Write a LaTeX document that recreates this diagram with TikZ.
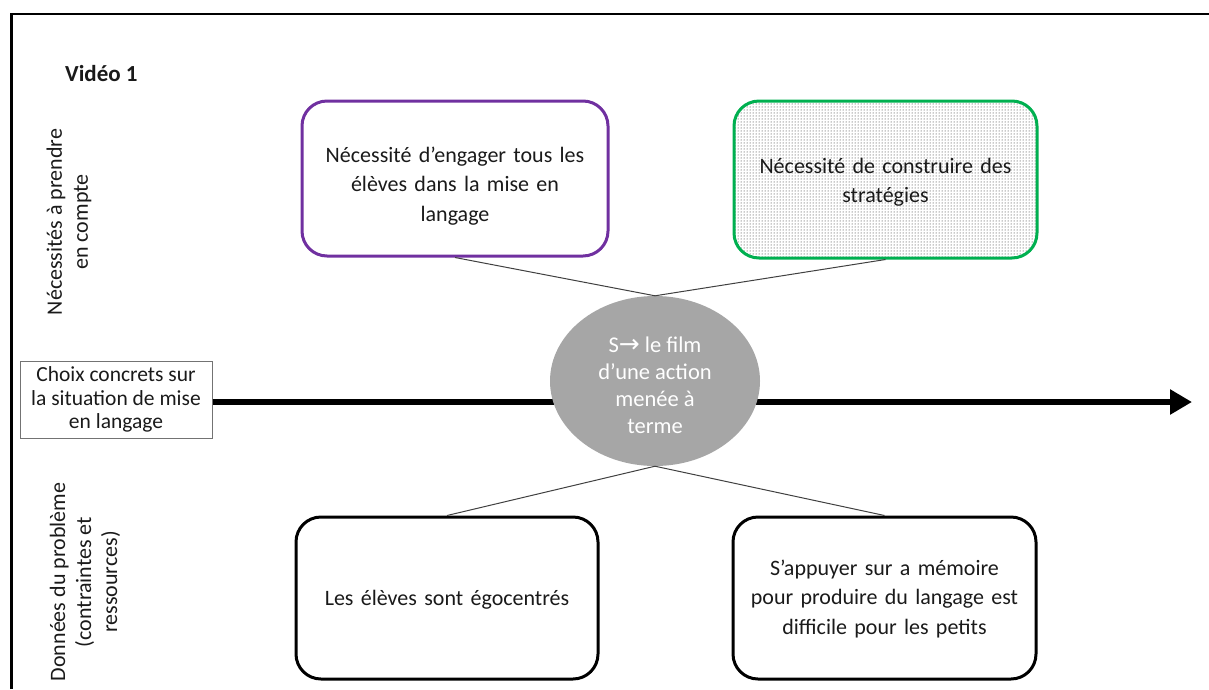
\documentclass[tikz,border=0pt]{standalone}
\usepackage{fontspec}
\setmainfont{Carlito}
\newfontfamily\symfont{DejaVu Sans}
\usetikzlibrary{shapes.geometric,arrows.meta,patterns}
\definecolor{purpleline}{HTML}{7030A0}
\definecolor{greenline}{HTML}{00B050}
\definecolor{ellgray}{HTML}{A6A6A6}
\definecolor{txt}{HTML}{1A1A1A}
\tikzset{
  bigbox/.style={draw, rounded corners=25pt, line width=3pt, inner sep=0pt},
  boxtext/.style={inner sep=0pt, text width=290pt, align=center, text=txt,
    font=\fontsize{22}{29.5}\selectfont},
  connline/.style={draw=black!75, line width=1pt},
  sidelabel/.style={rotate=90, align=center, text=txt, inner sep=0pt,
    font=\fontsize{22}{26}\selectfont},
}
\begin{document}
\begin{tikzpicture}[x=1pt,y=-1pt]
\useasboundingbox (0,0) rectangle (1209,689);
% frame
\draw[line width=2.5pt] (11.5,689) -- (11.5,14) -- (1209,14);
% title
\node[font=\fontsize{23}{27}\selectfont\bfseries, text=txt, anchor=west, inner sep=0pt] (title) at (65,74) {Vidéo 1};
% side labels
\node[sidelabel] (toplab) at (69,222) {Nécessités à prendre\\en compte};
\node[sidelabel] (botlab) at (85,582) {Données du problème\\(contraintes et\\ressources)};
% choice box
\node[draw=black!55, line width=1pt, minimum width=192pt, minimum height=77pt, inner sep=0pt,
  align=center, text=txt, font=\fontsize{21.5}{23.5}\selectfont] (choix) at (116,399.5)
  {Choix concrets sur\\la situation de mise\\en langage};
\coordinate (arrowend) at (1192,402);
\draw[line width=6pt, -{Triangle[length=22pt,width=24pt]}] (choix.east |- arrowend) -- (arrowend);
% boxes
\node[bigbox, draw=purpleline, minimum width=306pt, minimum height=155pt] (purple) at (455,178.5) {};
\node[boxtext] (purpletext) at (455,186) {Nécessité d’engager tous les\\élèves dans la mise en\\langage};
\node[bigbox, draw=greenline, pattern=dots, pattern color=black!90, minimum width=303pt, minimum height=157pt] (green) at (885.5,179.5) {};
\node[boxtext] (greentext) at (885.5,182) {Nécessité de construire des\\stratégies};
\node[bigbox, draw=black, minimum width=302pt, minimum height=162pt] (bl) at (447,598) {};
\node[boxtext] (bltext) at (447,600) {Les élèves sont égocentrés};
\node[bigbox, draw=black, minimum width=303pt, minimum height=162pt] (br) at (884.5,598) {};
\node[boxtext] (brtext) at (884.5,599) {S’appuyer sur a mémoire\\pour produire du langage est\\difficile pour les petits};
% ellipse
\node[ellipse, fill=ellgray, minimum width=210pt, minimum height=170pt, inner sep=0pt] (ell) at (655,381) {};
\node[align=center, text=white, inner sep=0pt, font=\fontsize{22.5}{27}\selectfont] (elltext) at (655,385)
  {S{\symfont\fontsize{25}{27}\selectfont→} le film\\d’une action\\menée à\\terme};
% connectors
\draw[connline] (purple.south) -- (ell.north);
\draw[connline] (green.south) -- (ell.north);
\draw[connline] (ell.south) -- (bl.north);
\draw[connline] (ell.south) -- (br.north);
\end{tikzpicture}
\end{document}
